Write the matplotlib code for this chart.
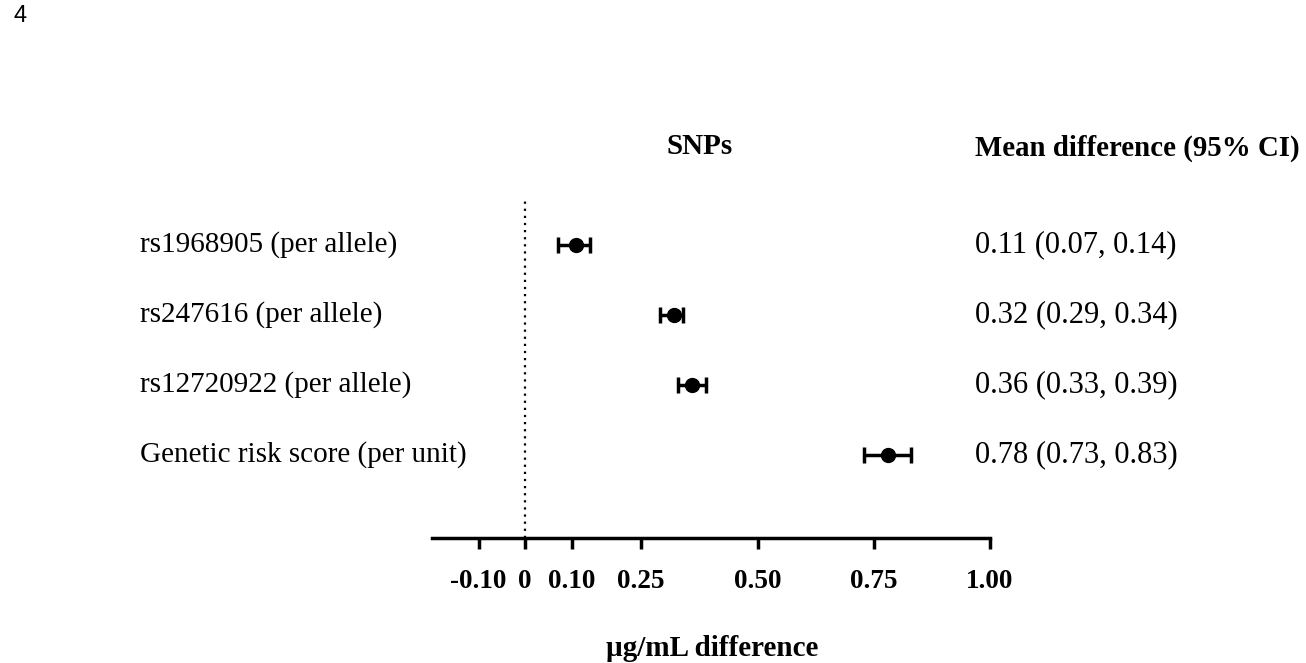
import matplotlib
matplotlib.use("Agg")
import matplotlib.pyplot as plt
from matplotlib.transforms import blended_transform_factory

# data
labels = ["rs1968905 (per allele)", "rs247616 (per allele)",
          "rs12720922 (per allele)", "Genetic risk score (per unit)"]
means = [0.11, 0.32, 0.36, 0.78]
lower = [0.07, 0.29, 0.33, 0.73]
upper = [0.14, 0.34, 0.39, 0.83]
ticks = [-0.10, 0, 0.10, 0.25, 0.50, 0.75, 1.00]
tick_labels = ["-0.10", "0", "0.10", "0.25", "0.50", "0.75", "1.00"]

plt.rcParams["font.family"] = ["Liberation Serif", "DejaVu Serif"]

fig = plt.figure(figsize=(13.06, 6.63), dpi=100)
W, H = 1306, 663
# axes from x=432..990 px, y=200..538 px
ax = fig.add_axes([432 / W, (H - 538) / H, (990 - 432) / W, (538 - 200) / H])

rows = list(range(len(labels)))
errs = [[m - l for m, l in zip(means, lower)], [u - m for m, u in zip(means, upper)]]
ax.errorbar(means, rows, xerr=errs, fmt="o", color="black", ms=10,
            elinewidth=2.5, capsize=5.5, capthick=2.5)

ax.axvline(0, color="black", lw=1.6, linestyle=(0, (1, 2.2)))

ax.set_xlim(-0.2, 1.0)
ax.set_ylim(3 + 83 / 70, -45 / 70)
ax.set_xticks(ticks)
ax.set_xticklabels(tick_labels, fontsize=19.5, fontweight="bold")
ax.tick_params(axis="x", direction="out", length=8, width=2.5, pad=14)
ax.set_yticks([])
for s in ["top", "right", "left"]:
    ax.spines[s].set_visible(False)
ax.spines["bottom"].set_linewidth(2.5)

tr = blended_transform_factory(fig.transFigure, ax.transData)
for i, lab in enumerate(labels):
    ax.text(140 / W, i, lab, transform=tr, fontsize=21, ha="left", va="center")
    txt = f"{means[i]:.2f} ({lower[i]:.2f}, {upper[i]:.2f})"
    ax.text(975 / W, i, txt, transform=tr, fontsize=22, ha="left", va="center")

fig.text(700 / W, 1 - 147 / H, "SNPs", fontsize=21, fontweight="bold",
         ha="center", va="center")
fig.text(975 / W, 1 - 148 / H, "Mean difference (95% CI)", fontsize=20.8,
         fontweight="bold", ha="left", va="center")
fig.text(712 / W, 1 - 648 / H, "\u00b5g/mL difference", fontsize=21,
         fontweight="bold", ha="center", va="center")
fig.text(14 / W, 1 - 16 / H, "4", fontsize=17, family="Liberation Sans",
         ha="left", va="center")

fig.savefig("out.png", dpi=100)
